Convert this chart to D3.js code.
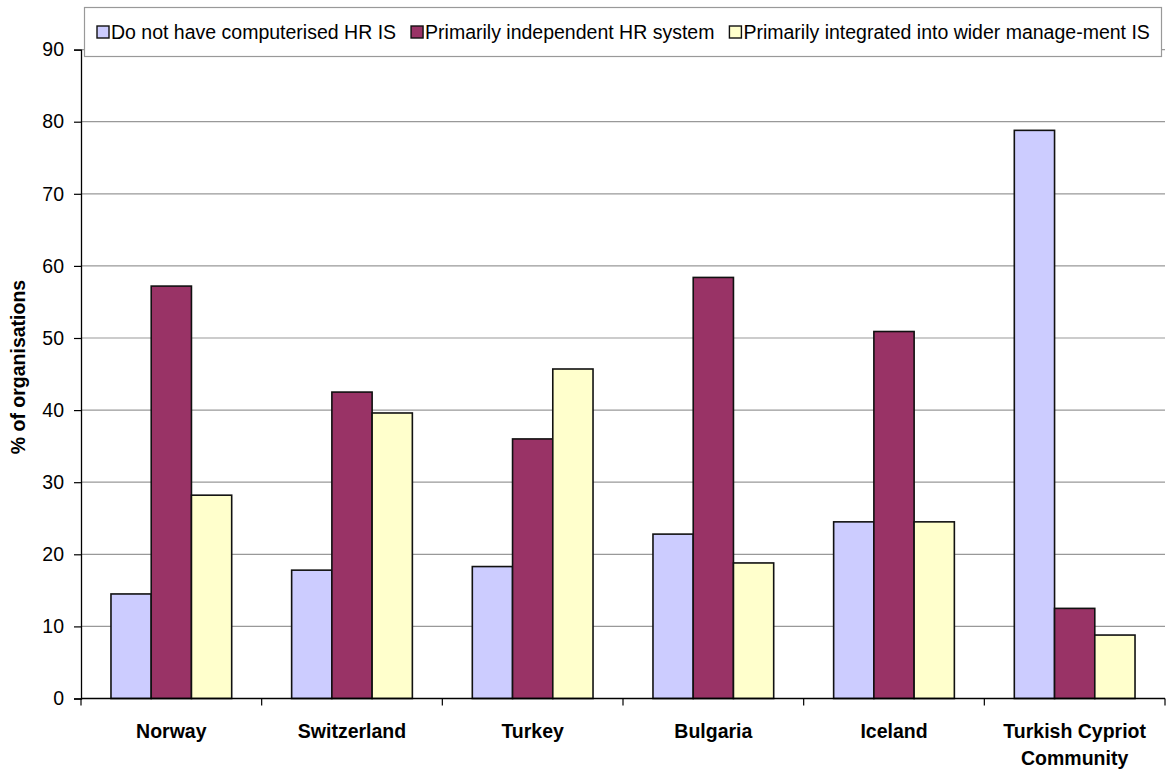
<!DOCTYPE html>
<html>
<head>
<meta charset="utf-8">
<script src="https://cdn.jsdelivr.net/npm/d3@7"></script>
<style>
  html, body { margin: 0; padding: 0; background: #fff; }
  svg { display: block; font-family: "Liberation Sans", Arial, sans-serif; }
</style>
</head>
<body>
<svg id="chart" width="1166" height="773"></svg>
<script>
const categories = ["Norway", "Switzerland", "Turkey", "Bulgaria", "Iceland", "Turkish Cypriot Community"];
const seriesNames = ["Do not have computerised HR IS", "Primarily independent HR system", "Primarily integrated into wider manage-ment IS"];
const noComputerised = [14.5, 17.8, 18.3, 22.8, 24.5, 78.8];
const independent = [57.2, 42.5, 36.0, 58.4, 50.9, 12.5];
const integrated = [28.2, 39.6, 45.7, 18.8, 24.5, 8.8];
const yTicks = [0, 10, 20, 30, 40, 50, 60, 70, 80, 90];
const yLabel = "% of organisations";
const colors = ["#CCCCFF", "#993366", "#FFFFCC"];

const series = [noComputerised, independent, integrated];
const svg = d3.select("#chart");
const margin = { left: 81, right: 1165, top: 49.6, bottom: 698.5 };
const FONT = 19.5;

const x0 = d3.scaleBand().domain(categories).range([margin.left, margin.right]).paddingInner(0).paddingOuter(0);
const x1 = d3.scaleBand().domain(d3.range(series.length)).range([0, x0.bandwidth()]).paddingOuter(0.745).paddingInner(0);
const y = d3.scaleLinear().domain([0, 90]).range([margin.bottom, margin.top]);

// gridlines
svg.append("g").selectAll("line").data(yTicks.filter(t => t > 0)).join("line")
  .attr("x1", margin.left).attr("x2", margin.right)
  .attr("y1", d => y(d)).attr("y2", d => y(d))
  .attr("stroke", "#999").attr("stroke-width", 1.2);

// bars
const groups = svg.append("g").selectAll("g").data(categories).join("g")
  .attr("transform", c => `translate(${x0(c)},0)`);
groups.selectAll("rect").data((c, i) => series.map((s, k) => ({ k, v: s[i] }))).join("rect")
  .attr("x", d => x1(d.k))
  .attr("width", x1.bandwidth())
  .attr("y", d => y(d.v))
  .attr("height", d => y(0) - y(d.v))
  .attr("fill", d => colors[d.k])
  .attr("stroke", "#111").attr("stroke-width", 1.6);

// y axis
const yAxis = d3.axisLeft(y).tickValues(yTicks).tickSize(7).tickPadding(10).tickFormat(d3.format("d"));
const gy = svg.append("g").attr("transform", `translate(${margin.left},0)`).call(yAxis);
gy.attr("font-size", null).attr("font-family", null);
gy.select(".domain").attr("stroke", "#000").attr("stroke-width", 1.3);
gy.selectAll(".tick line").attr("stroke", "#000").attr("stroke-width", 1.2);
gy.selectAll(".tick text").attr("font-size", FONT).attr("fill", "#000")
  .attr("font-family", "'Liberation Sans', Arial, sans-serif");

// x axis
const boundaries = categories.map(c => x0(c)).concat([margin.right]);
svg.append("line").attr("x1", margin.left).attr("x2", margin.right)
  .attr("y1", y(0)).attr("y2", y(0)).attr("stroke", "#000").attr("stroke-width", 1.3);
svg.append("g").selectAll("line").data(boundaries).join("line")
  .attr("x1", d => d).attr("x2", d => d)
  .attr("y1", y(0)).attr("y2", y(0) + 7)
  .attr("stroke", "#000").attr("stroke-width", 1.2);

// x labels
const labelLines = { "Turkish Cypriot Community": ["Turkish Cypriot", "Community"] };
svg.append("g").selectAll("text").data(categories).join("text")
  .attr("x", c => x0(c) + x0.bandwidth() / 2)
  .attr("y", 738)
  .attr("text-anchor", "middle")
  .attr("font-size", FONT).attr("font-weight", "bold").attr("fill", "#000")
  .each(function (c) {
    const lines = labelLines[c] || [c];
    d3.select(this).selectAll("tspan").data(lines).join("tspan")
      .attr("x", x0(c) + x0.bandwidth() / 2)
      .attr("dy", (d, i) => i === 0 ? 0 : 27)
      .text(d => d);
  });

// y label
svg.append("text")
  .attr("transform", `translate(25,${(margin.top + margin.bottom) / 2 - 7}) rotate(-90)`)
  .attr("text-anchor", "middle")
  .attr("font-size", FONT).attr("font-weight", "bold").attr("fill", "#000")
  .text(yLabel);

// legend
const legend = svg.append("g");
legend.append("rect").attr("x", 84.5).attr("y", 7.5).attr("width", 1077).attr("height", 49)
  .attr("fill", "#fff").attr("stroke", "#999").attr("stroke-width", 1.2);
let lx = 97;
seriesNames.forEach((name, k) => {
  legend.append("rect").attr("x", lx).attr("y", 26).attr("width", 12).attr("height", 12)
    .attr("fill", colors[k]).attr("stroke", "#111").attr("stroke-width", 1.4);
  const t = legend.append("text").attr("x", lx + 14).attr("y", 39)
    .attr("font-size", FONT).attr("fill", "#000").text(name);
  const w = t.node().getComputedTextLength();
  lx = lx + 14 + w + 15;
});
</script>
</body>
</html>
